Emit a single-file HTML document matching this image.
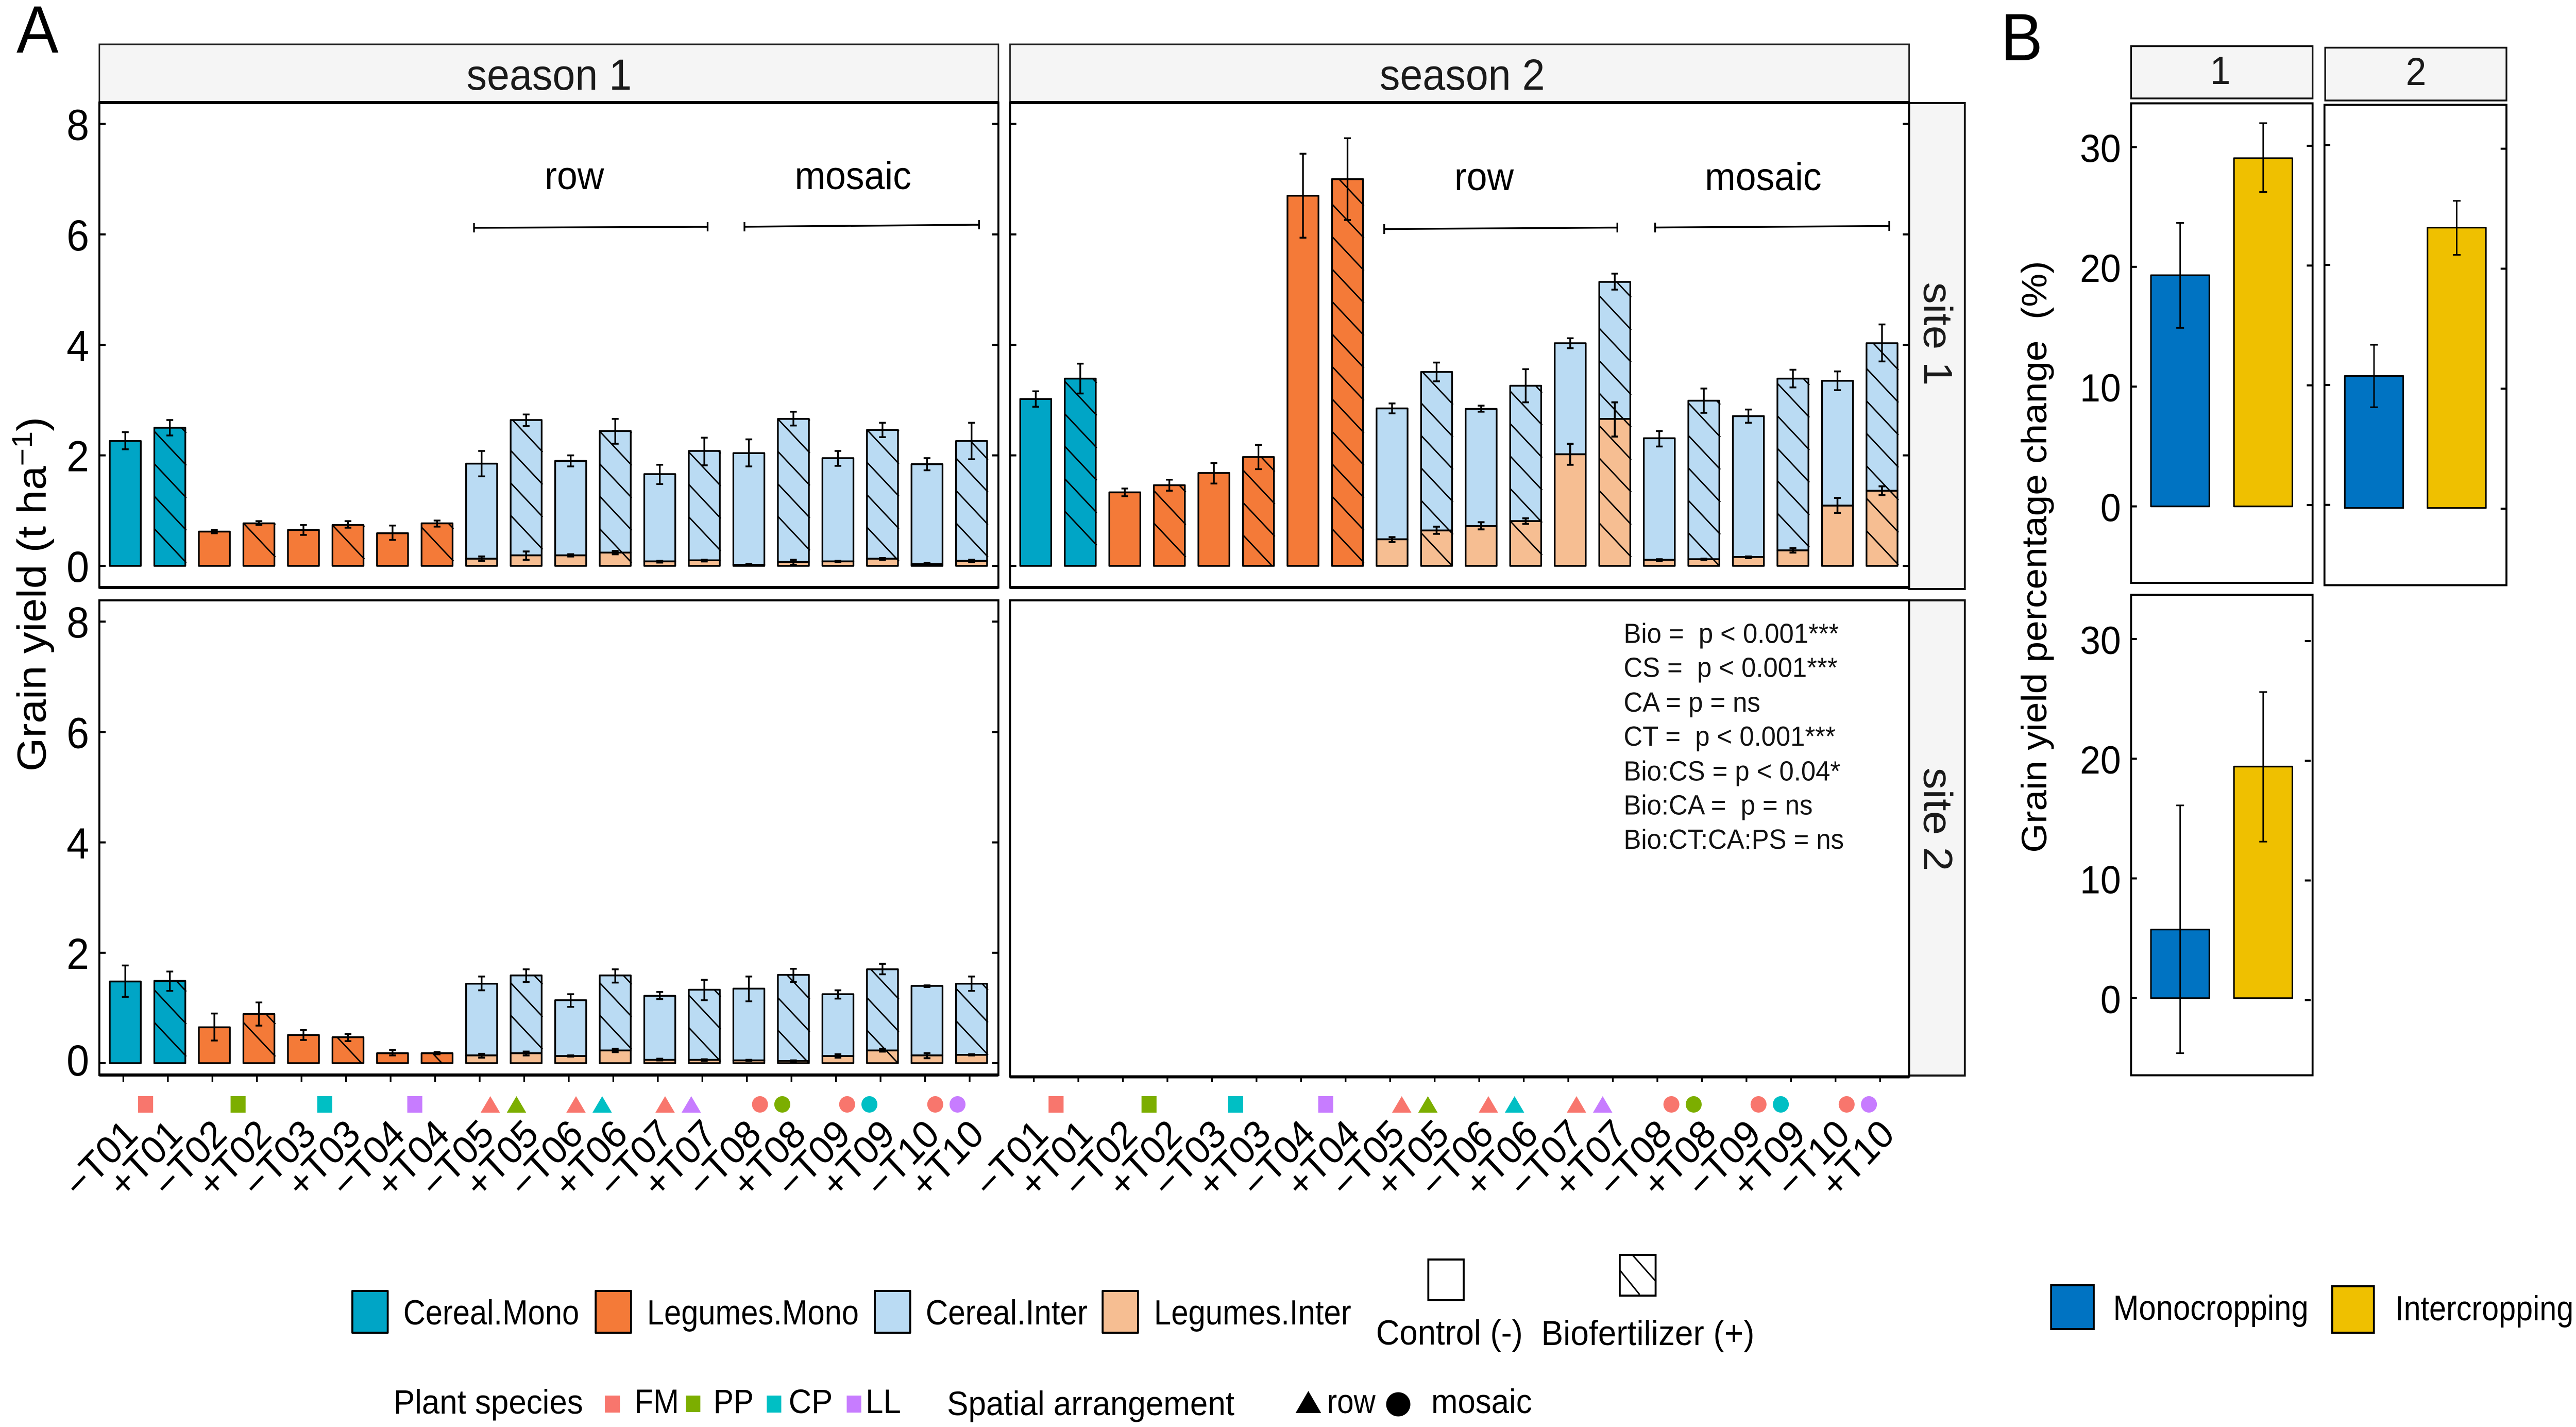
<!DOCTYPE html>
<html lang="en">
<head>
<meta charset="utf-8">
<title>Grain yield by treatment, season and site</title>
<style>
html,body{margin:0;padding:0;background:#fff;width:100%;height:100%;overflow:hidden;}
svg{display:block;width:100vw;height:100vh;font-family:"Liberation Sans",sans-serif;}
text{fill:#000;white-space:pre;}
</style>
</head>
<body>
<svg id="fig" xmlns="http://www.w3.org/2000/svg" viewBox="0 0 5315 2769" preserveAspectRatio="none">
<rect x="0" y="0" width="5315" height="2769" fill="#fff"/>

<text x="34" y="102" font-size="130">A</text>
<text x="4128" y="117" font-size="130">B</text>

<g>
<rect x="205" y="86" width="1855" height="113" fill="#f5f5f5" stroke="#222" stroke-width="3"/>
<rect x="2084" y="86" width="1855" height="113" fill="#f5f5f5" stroke="#222" stroke-width="3"/>
<rect x="3939" y="200" width="115" height="943" fill="#f5f5f5" stroke="#111" stroke-width="4"/>
<rect x="3939" y="1165" width="115" height="922" fill="#f5f5f5" stroke="#111" stroke-width="4"/>
<text x="1133" y="174" font-size="84" text-anchor="middle" style="fill:#1a1a1a">season 1</text>
<text x="3017" y="174" font-size="84" text-anchor="middle" style="fill:#1a1a1a">season 2</text>
<text transform="translate(3970 648) rotate(90)" font-size="84" text-anchor="middle" style="fill:#1a1a1a">site 1</text>
<text transform="translate(3970 1590) rotate(90)" font-size="84" text-anchor="middle" style="fill:#1a1a1a">site 2</text>
<rect x="4397" y="89.5" width="374.5" height="101.5" fill="#f5f5f5" stroke="#111" stroke-width="3.5"/>
<rect x="4797.5" y="92.5" width="374" height="102.5" fill="#f5f5f5" stroke="#111" stroke-width="3.5"/>
<text x="4581" y="163" font-size="76" text-anchor="middle" style="fill:#1a1a1a">1</text>
<text x="4985" y="165" font-size="76" text-anchor="middle" style="fill:#1a1a1a">2</text>
</g>

<g id="panels"></g>
<g id="panelsB"></g>

<g fill="none" stroke="#000">
<rect x="205" y="199" width="1855" height="941" stroke-width="4"/>
<rect x="2084" y="199" width="1855" height="941" stroke-width="4"/>
<rect x="205" y="1165" width="1855" height="921" stroke-width="4"/>
<rect x="2084" y="1165" width="1855" height="924" stroke-width="4"/>
<path d="M205 199H2060M2084 199H3939M205 1140H2060M2084 1140H3939M205 2086H2060M2084 2089.5H3939" stroke-width="6"/>
<rect x="4397" y="200.5" width="374.5" height="930.5" stroke-width="4"/>
<rect x="4796" y="203.5" width="375.5" height="932" stroke-width="4"/>
<rect x="4397" y="1154" width="374.5" height="932.5" stroke-width="4"/>
</g>

<text transform="translate(94 1153) rotate(-90)" font-size="84" text-anchor="middle">Grain yield (t ha<tspan dy="-28" font-size="59">−1</tspan><tspan dy="28">)</tspan></text>
<text transform="translate(4222 1080.5) rotate(-90)" font-size="73" text-anchor="middle">Grain yield percentage change  (%)</text>

<g>
<text x="1185" y="367" font-size="76" text-anchor="middle">row</text>
<text x="1760" y="367" font-size="76" text-anchor="middle">mosaic</text>
<text x="3062" y="369" font-size="76" text-anchor="middle">row</text>
<text x="3638" y="369" font-size="76" text-anchor="middle">mosaic</text>
<g fill="none" stroke="#000" stroke-width="3.5">
<path d="M978 442L1460 440M978 433V451M1460 431V449"/>
<path d="M1536 440L2020 436M1536 431V449M2020 427V445"/>
<path d="M2856 444.5L3337 441.5M2856 435V454M3337 432V451"/>
<path d="M3415 441.5L3898 438.5M3415 432V451M3898 429V448"/>
</g>
</g>

<g font-size="54" style="font-size:54px">
<text x="3350" y="1247.5" style="fill:#111">Bio =  p &lt; 0.001***</text>
<text x="3350" y="1313.6" style="fill:#111">CS =  p &lt; 0.001***</text>
<text x="3350" y="1381" style="fill:#111">CA = p = ns</text>
<text x="3350" y="1447" style="fill:#111">CT =  p &lt; 0.001***</text>
<text x="3350" y="1514.5" style="fill:#111">Bio:CS = p &lt; 0.04*</text>
<text x="3350" y="1580.5" style="fill:#111">Bio:CA =  p = ns</text>
<text x="3350" y="1647" style="fill:#111">Bio:CT:CA:PS = ns</text>
</g>

<g stroke-linejoin="round">
<rect x="727" y="2505" width="73" height="81" fill="#00a5c6" stroke="#000" stroke-width="4"/>
<text x="832" y="2570" font-size="68" textLength="363" lengthAdjust="spacingAndGlyphs">Cereal.Mono</text>
<rect x="1229" y="2505" width="73" height="81" fill="#f47a38" stroke="#000" stroke-width="4"/>
<text x="1335" y="2570" font-size="68" textLength="437" lengthAdjust="spacingAndGlyphs">Legumes.Mono</text>
<rect x="1805" y="2505" width="73" height="81" fill="#badbf3" stroke="#000" stroke-width="4"/>
<text x="1910" y="2570" font-size="68" textLength="334" lengthAdjust="spacingAndGlyphs">Cereal.Inter</text>
<rect x="2275" y="2505" width="73" height="81" fill="#f6be92" stroke="#000" stroke-width="4"/>
<text x="2381" y="2570" font-size="68" textLength="407" lengthAdjust="spacingAndGlyphs">Legumes.Inter</text>
</g>

<g>
<rect x="2947" y="2444" width="73" height="79" fill="#fff" stroke="#000" stroke-width="4"/>
<text x="2839" y="2609" font-size="68" textLength="303" lengthAdjust="spacingAndGlyphs">Control (-)</text>
<rect x="3342" y="2435" width="74" height="79" fill="#fff" stroke="#000" stroke-width="4"/>
<path d="M3368 2435L3417 2487M3342.5 2465L3383 2512" fill="none" stroke="#000" stroke-width="3"/>
<text x="3180" y="2610" font-size="68" textLength="440" lengthAdjust="spacingAndGlyphs">Biofertilizer (+)</text>
</g>

<g>
<text x="812" y="2743" font-size="66" textLength="391" lengthAdjust="spacingAndGlyphs">Plant species</text>
<rect x="1248" y="2708" width="31" height="33" fill="#f8766d"/>
<text x="1309" y="2742" font-size="66" textLength="92" lengthAdjust="spacingAndGlyphs">FM</text>
<rect x="1415" y="2708" width="30" height="32" fill="#7cae00"/>
<text x="1472" y="2742" font-size="66" textLength="83" lengthAdjust="spacingAndGlyphs">PP</text>
<rect x="1582" y="2708" width="30" height="33" fill="#00bfc4"/>
<text x="1627" y="2742" font-size="66" textLength="91" lengthAdjust="spacingAndGlyphs">CP</text>
<rect x="1747" y="2708" width="30" height="33" fill="#c77cff"/>
<text x="1786" y="2742" font-size="66" textLength="73" lengthAdjust="spacingAndGlyphs">LL</text>
</g>

<g>
<text x="1954" y="2746" font-size="66" textLength="593" lengthAdjust="spacingAndGlyphs">Spatial arrangement</text>
<path d="M2699.5 2699L2726 2742H2673Z" fill="#000"/>
<text x="2738" y="2742" font-size="66" textLength="100" lengthAdjust="spacingAndGlyphs">row</text>
<ellipse cx="2885" cy="2725" rx="25" ry="23.5" fill="#000"/>
<text x="2953" y="2742" font-size="66" textLength="208" lengthAdjust="spacingAndGlyphs">mosaic</text>
</g>

<g>
<rect x="4232" y="2494" width="88" height="85" fill="#0073c2" stroke="#000" stroke-width="4"/>
<text x="4360" y="2561" font-size="68" textLength="403" lengthAdjust="spacingAndGlyphs">Monocropping</text>
<rect x="4812" y="2496" width="86" height="90" fill="#efc000" stroke="#000" stroke-width="4"/>
<text x="4942" y="2562" font-size="68" textLength="368" lengthAdjust="spacingAndGlyphs">Intercropping</text>
</g>
</svg>

<script>
/* ---------- Panel A data (t ha-1) ---------- */
const treatments = ['−T01','+T01','−T02','+T02','−T03','+T03','−T04','+T04','−T05','+T05','−T06','+T06','−T07','+T07','−T08','+T08','−T09','+T09','−T10','+T10'];
const yTicks = [0,2,4,6,8];

const s1s1Total = [2.26,2.5,0.62,0.77,0.65,0.74,0.59,0.77,1.85,2.64,1.9,2.44,1.66,2.08,2.04,2.66,1.95,2.46,1.84,2.26];
const s1s1Hi = [2.42,2.64,0.65,0.81,0.74,0.81,0.73,0.82,2.08,2.74,2.0,2.66,1.83,2.32,2.29,2.79,2.08,2.59,1.95,2.59];
const s1s1Lo = [2.11,2.36,0.59,0.74,0.56,0.69,0.47,0.71,1.62,2.53,1.8,2.21,1.48,1.82,1.8,2.54,1.81,2.33,1.73,1.93];
const s1s1Leg = [0.13,0.19,0.19,0.24,0.08,0.1,0.02,0.07,0.08,0.13,0.03,0.09];
const s1s1LegHi = [0.17,0.26,0.21,0.27,0.09,0.11,0.03,0.11,0.09,0.14,0.05,0.11];
const s1s1LegLo = [0.09,0.11,0.17,0.21,0.06,0.08,0.01,0.02,0.07,0.11,0.01,0.07];

const s2s1Total = [3.02,3.39,1.33,1.46,1.68,1.97,6.7,7.0,2.85,3.51,2.84,3.26,4.03,5.14,2.31,2.99,2.71,3.39,3.35,4.03];
const s2s1Hi = [3.16,3.66,1.4,1.56,1.86,2.19,7.46,7.74,2.94,3.68,2.9,3.56,4.12,5.29,2.44,3.21,2.83,3.55,3.52,4.37];
const s2s1Lo = [2.88,3.12,1.26,1.36,1.49,1.75,5.94,6.26,2.76,3.34,2.79,2.96,3.94,5.0,2.16,2.77,2.59,3.23,3.18,3.7];
const s2s1Leg = [0.48,0.64,0.72,0.81,2.02,2.66,0.11,0.12,0.16,0.28,1.09,1.36];
const s2s1LegHi = [0.52,0.71,0.79,0.86,2.21,2.96,0.12,0.13,0.17,0.32,1.23,1.44];
const s2s1LegLo = [0.43,0.58,0.66,0.76,1.83,2.34,0.09,0.11,0.14,0.24,0.96,1.28];

const s1s2Total = [1.48,1.49,0.65,0.89,0.51,0.47,0.18,0.18,1.44,1.59,1.14,1.59,1.22,1.33,1.35,1.6,1.25,1.7,1.4,1.44];
const s1s2Hi = [1.77,1.66,0.9,1.1,0.6,0.53,0.24,0.2,1.57,1.7,1.25,1.7,1.29,1.51,1.57,1.71,1.32,1.8,1.41,1.57];
const s1s2Lo = [1.2,1.31,0.41,0.68,0.42,0.4,0.14,0.16,1.32,1.47,1.02,1.46,1.16,1.14,1.12,1.47,1.17,1.61,1.38,1.31];
const s1s2Leg = [0.14,0.18,0.13,0.23,0.06,0.06,0.05,0.04,0.13,0.23,0.14,0.15];
const s1s2LegHi = [0.17,0.21,0.14,0.26,0.08,0.07,0.06,0.05,0.16,0.26,0.18,0.16];
const s1s2LegLo = [0.1,0.14,0.12,0.2,0.05,0.04,0.04,0.02,0.1,0.21,0.09,0.14];

/* Treatment groups: species 2 partner and spatial arrangement of the marker row */
const groupSpecies = [['FM'],['PP'],['CP'],['LL'],['FM','PP'],['FM','CP'],['FM','LL'],['FM','PP'],['FM','CP'],['FM','LL']];
const groupShape = ['square','square','square','square','triangle','triangle','triangle','circle','circle','circle'];

/* ---------- Panel B data (%) ---------- */
const bCategories = ['Monocropping','Intercropping'];
const bTicks = [0,10,20,30];
const b1Values = [19.3,29.07];
const b1Hi = [23.67,32];
const b1Lo = [14.9,26.25];
const b2Values = [11,23.37];
const b2Hi = [13.6,25.6];
const b2Lo = [8.4,21.1];
const b3Values = [5.73,19.34];
const b3Hi = [16.1,25.57];
const b3Lo = [-4.6,13.07];

/* ---------- Styling only ---------- */
const COL = {cerealMono:'#00a5c6',legMono:'#f47a38',cerealInter:'#badbf3',legInter:'#f6be92',FM:'#f8766d',PP:'#7cae00',CP:'#00bfc4',LL:'#c77cff',mono:'#0073c2',inter:'#efc000'};
const NS = 'http://www.w3.org/2000/svg';
const rootA = document.getElementById('panels');
const rootB = document.getElementById('panelsB');

function mk(tag, attrs, parent, txt){
  const e = document.createElementNS(NS, tag);
  for (const k in attrs) e.setAttribute(k, attrs[k]);
  if (txt !== undefined) e.textContent = txt;
  parent.appendChild(e);
  return e;
}

/* hatch phase (px above the zero line) for each hatched bar, purely visual */
const hatchPhaseS1S1 = [8,19,15,11,34,8,31,32,11,19];
const hatchPhaseS2S1 = [42,19,-4,8,0,23,19,0,38,4];
const hatchPhaseS1S2 = [15,15,-4,-22,29,29,5,0,0,18];

function drawHatch(g, cx, halfW, top, zero, phase){
  const spacing = 63;
  for (let k = 0; k < 60; k++){
    const yR = zero - phase - k*spacing;
    const yL = yR - 2*halfW;
    if (yR <= top) break;
    let xs = cx - halfW, ys = yL, xe = cx + halfW + 2, ye = yR + 2;
    if (ys < top){ xs += (top - ys); ys = top; }
    if (ye > zero){ xe -= (ye - zero); ye = zero; }
    if (xe <= xs) continue;
    const l = mk('line', {x1:xs, y1:ys, x2:xe, y2:ye, stroke:'#000', 'stroke-width':2.8}, g);
    
    
  }
}

function drawErr(g, x, yHi, yLo, cap, sw){
  const v = mk('line', {x1:x, y1:yHi, x2:x, y2:yLo, stroke:'#000', 'stroke-width':sw}, g);
  
  
  const c1 = mk('line', {x1:x-cap, y1:yHi, x2:x+cap, y2:yHi, stroke:'#000', 'stroke-width':sw}, g);
  
  
  const c2 = mk('line', {x1:x-cap, y1:yLo, x2:x+cap, y2:yLo, stroke:'#000', 'stroke-width':sw}, g);
  
  
}

function drawBarRect(g, x, y0, y1, w, fill){
  const r = mk('rect', {x:x, y:y1, width:w, height:Math.max(0,y0-y1), fill:fill, stroke:'#000', 'stroke-width':3.5, 'stroke-linejoin':'round'}, g);
  
  
}

function drawYAxis(g, ticks, yFn, xL, xR, len, labelX, labelFont, baseOff, labels, rightShift, leftShift){
  ticks.forEach(function(t){
    const y = yFn(t);
    const a = mk('line', {x1:xL, y1:y+leftShift, x2:xL+len, y2:y+leftShift, stroke:'#000', 'stroke-width':4}, g);
    
    
    const b = mk('line', {x1:xR-len, y1:y+rightShift, x2:xR, y2:y+rightShift, stroke:'#000', 'stroke-width':4}, g);
    
    
    if (labels){
      const off = (t === 0 && labels === 'squash') ? baseOff - 7 : baseOff;
      const txt = mk('text', {x:labelX, y:y+off, 'font-size':labelFont, 'text-anchor':'end'}, g, String(t));
      
      
    }
  });
}

function drawPanelA(cfg){
  const g = mk('g', {}, rootA);
  
  
  const X = function(i){ return cfg.x0 + 91.9*i; };
  const Y = function(v){ return cfg.zero - cfg.unit*v; };
  drawYAxis(g, yTicks, Y, cfg.left, cfg.right, 13, 184, 84, 31, cfg.yLabels, 0, 0);
  if (!cfg.total) return;
  const halfW = 32;
  let hatchIdx = 0;
  cfg.total.forEach(function(v, i){
    const cx = X(i), isHatched = i % 2 === 1;
    const bar = mk('g', {}, g);
    
    
    const zero = Y(0), top = Y(v);
    if (i < 8){
      drawBarRect(bar, cx-halfW, zero, top, 2*halfW, i < 2 ? COL.cerealMono : COL.legMono);
    } else {
      const lv = cfg.leg[i-8];
      drawBarRect(bar, cx-halfW, Y(lv), top, 2*halfW, COL.cerealInter);
      drawBarRect(bar, cx-halfW, zero, Y(lv), 2*halfW, COL.legInter);
    }
    if (isHatched){
      drawHatch(bar, cx, halfW, top, zero, cfg.phase[hatchIdx]);
      hatchIdx++;
    }
    if (i >= 8){
      drawErr(bar, cx, Y(cfg.legHi[i-8]), Y(cfg.legLo[i-8]), 7, 3.8);
    }
    drawErr(bar, cx, Y(cfg.hi[i]), Y(cfg.lo[i]), 7, 3.5);
  });
}

function drawXAxis(name, x0, frameBottom, nudge){
  const g = mk('g', {}, rootA);
  
  
  treatments.forEach(function(t, i){
    const cx = x0 + 91.9*i;
    const tk = mk('line', {x1:cx-4, y1:frameBottom, x2:cx-4, y2:2100, stroke:'#000', 'stroke-width':3.5}, g);
    
    
    const lb = mk('text', {transform:'translate(' + (cx+29.5) + ' 2205) rotate(-45)', 'font-size':76, 'text-anchor':'end'}, g, t);
    
    
  });
  groupSpecies.forEach(function(sp, t){
    const mid = x0 + 91.9*(2*t+0.5) + nudge[t];
    const shape = groupShape[t];
    const spread = shape === 'triangle' ? 27 : 23;
    sp.forEach(function(s, j){
      const cx = sp.length === 1 ? mid : mid + (j === 0 ? -spread : spread);
      let m;
      if (shape === 'square'){
        m = mk('rect', {x:cx-15.5, y:2127, width:31, height:32, fill:COL[s]}, g);
      } else if (shape === 'triangle'){
        m = mk('path', {d:'M'+cx+' 2127L'+(cx+20)+' 2159H'+(cx-20)+'Z', fill:COL[s]}, g);
      } else {
        m = mk('ellipse', {cx:cx, cy:2143, rx:16.5, ry:16, fill:COL[s]}, g);
      }
      
      
    });
  });
}

function drawPanelB(cfg){
  const g = mk('g', {}, rootB);
  
  
  const Y = function(v){ return cfg.zero - cfg.unit*v; };
  drawYAxis(g, bTicks, Y, cfg.left, cfg.right, 12, 4376, 76, 29, cfg.yLabels, cfg.rightShift, cfg.leftShift);
  cfg.values.forEach(function(v, i){
    const x = cfg.barX[i];
    const r = mk('rect', {x:x, y:Y(v), width:120.5, height:Y(0)-Y(v), fill:i === 0 ? COL.mono : COL.inter, stroke:'#000', 'stroke-width':3.2, 'stroke-linejoin':'round'}, g);
    
    
    drawErr(g, x+60.25, Y(cfg.hi[i]), Y(cfg.lo[i]), 8, 3);
  });
}

drawPanelA({name:'season1-site1', x0:258.5, left:205, right:2060, zero:1098, unit:107.2, yLabels:true, total:s1s1Total, hi:s1s1Hi, lo:s1s1Lo, leg:s1s1Leg, legHi:s1s1LegHi, legLo:s1s1LegLo, phase:hatchPhaseS1S1});
drawPanelA({name:'season2-site1', x0:2137, left:2084, right:3939, zero:1098, unit:107.2, yLabels:false, total:s2s1Total, hi:s2s1Hi, lo:s2s1Lo, leg:s2s1Leg, legHi:s2s1LegHi, legLo:s2s1LegLo, phase:hatchPhaseS2S1});
drawPanelA({name:'season1-site2', x0:258.5, left:205, right:2060, zero:2063, unit:107.1, yLabels:'squash', total:s1s2Total, hi:s1s2Hi, lo:s1s2Lo, leg:s1s2Leg, legHi:s1s2LegHi, legLo:s1s2LegLo, phase:hatchPhaseS1S2});
drawXAxis('season-1', 258.5, 2086, [-4,3,-2,0,-1,-8,-8,0,-4,-6]);
drawXAxis('season-2', 2137, 2089, [-4,4,-1,1,1,-4,-6,2,-2,-4]);

drawPanelB({name:'site-1', left:4397, right:4771.5, zero:982.6, unit:23.24, yLabels:true, values:b1Values, hi:b1Hi, lo:b1Lo, barX:[4438,4609.3], rightShift:-2.5, leftShift:0});
drawPanelB({name:'site-2', left:4796, right:5171.5, zero:985.7, unit:23.28, yLabels:false, values:b2Values, hi:b2Hi, lo:b2Lo, barX:[4838,5008.6], rightShift:1.3, leftShift:-6});
drawPanelB({name:'site-3', left:4397, right:4767.5, zero:1936.8, unit:23.23, yLabels:true, values:b3Values, hi:b3Hi, lo:b3Lo, barX:[4438,4609.3], rightShift:4, leftShift:0});
</script>
</body>
</html>
